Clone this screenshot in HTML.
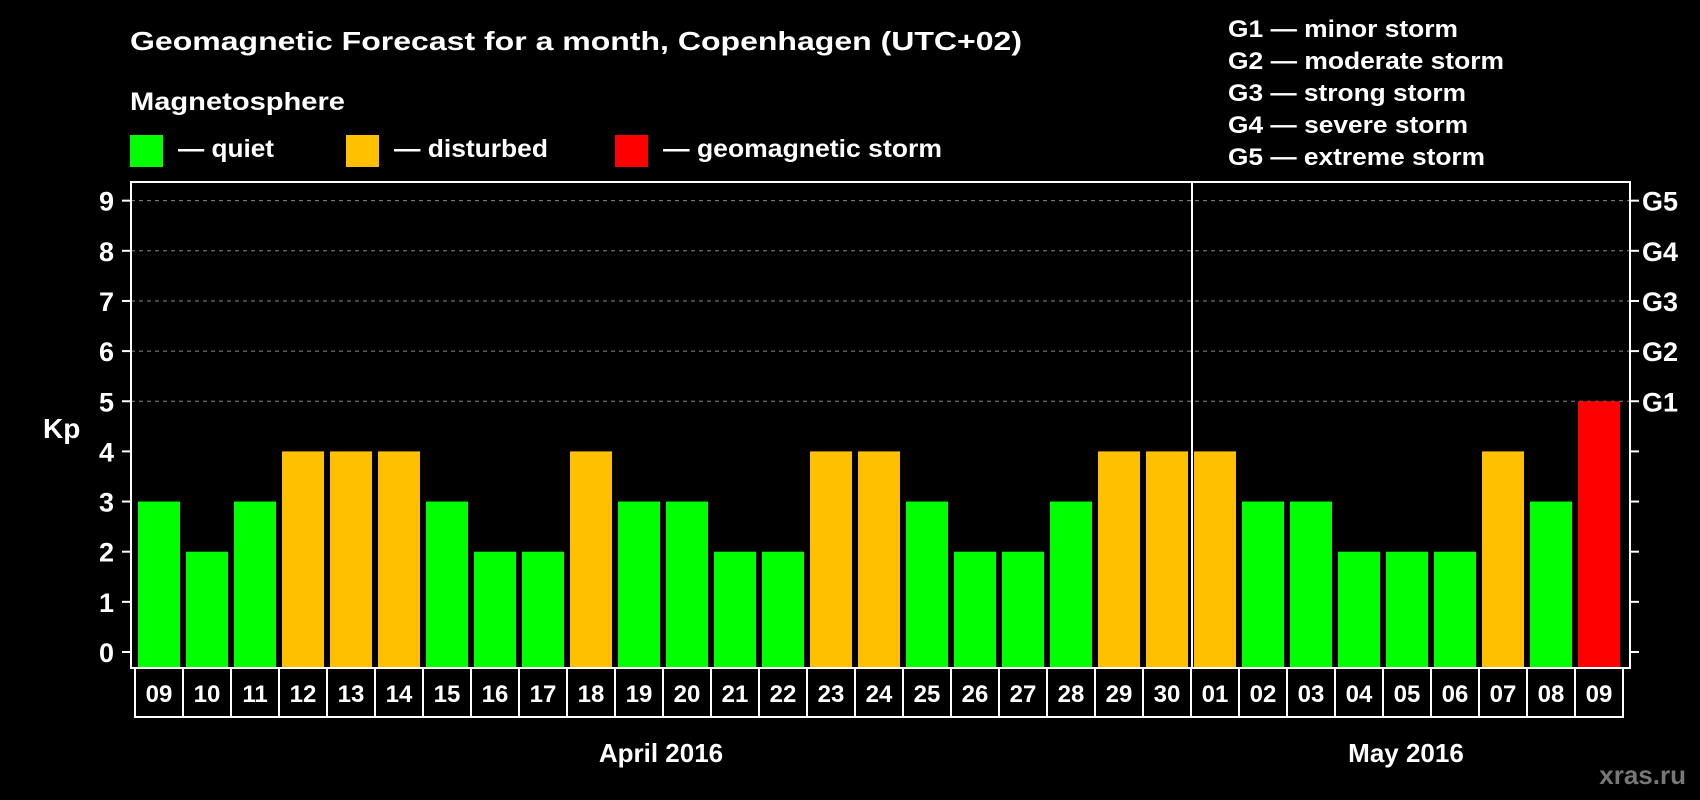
<!DOCTYPE html>
<html><head><meta charset="utf-8">
<style>
html,body{margin:0;padding:0;background:#000;}
svg{display:block;font-family:"Liberation Sans",Arial,sans-serif;font-weight:bold;}
</style></head>
<body>
<svg id="chart" width="1700" height="800" viewBox="0 0 1700 800" xmlns="http://www.w3.org/2000/svg">
<rect x="0" y="0" width="1700" height="800" fill="#000"/>
<text x="130" y="50" fill="#fff" font-size="26" textLength="892" lengthAdjust="spacingAndGlyphs">Geomagnetic Forecast for a month, Copenhagen (UTC+02)</text>
<text x="130" y="110" fill="#fff" font-size="25" textLength="215" lengthAdjust="spacingAndGlyphs">Magnetosphere</text>
<rect x="130" y="135" width="33" height="32" fill="#00ff00"/>
<text x="178" y="157" fill="#fff" font-size="25" textLength="96" lengthAdjust="spacingAndGlyphs">— quiet</text>
<rect x="346" y="135" width="33" height="32" fill="#ffc000"/>
<text x="394" y="157" fill="#fff" font-size="25" textLength="154" lengthAdjust="spacingAndGlyphs">— disturbed</text>
<rect x="615" y="135" width="33" height="32" fill="#ff0000"/>
<text x="663" y="157" fill="#fff" font-size="25" textLength="279" lengthAdjust="spacingAndGlyphs">— geomagnetic storm</text>
<g fill="#fff" font-size="24">
<text x="1228" y="37" textLength="230" lengthAdjust="spacingAndGlyphs">G1 — minor storm</text>
<text x="1228" y="69" textLength="276" lengthAdjust="spacingAndGlyphs">G2 — moderate storm</text>
<text x="1228" y="101" textLength="238" lengthAdjust="spacingAndGlyphs">G3 — strong storm</text>
<text x="1228" y="133" textLength="240" lengthAdjust="spacingAndGlyphs">G4 — severe storm</text>
<text x="1228" y="165" textLength="257" lengthAdjust="spacingAndGlyphs">G5 — extreme storm</text>
</g>
<g id="grid"></g>
<g id="bars"></g>
<g id="axes"></g>
<text x="43" y="438" fill="#fff" font-size="28">Kp</text>
<text x="661" y="762" fill="#fff" font-size="26" text-anchor="middle">April 2016</text>
<text x="1406" y="762" fill="#fff" font-size="26" text-anchor="middle">May 2016</text>
<text x="1686" y="784" fill="#777" font-size="26" text-anchor="end">xras.ru</text>
</svg>
<script>
const days = ["09","10","11","12","13","14","15","16","17","18","19","20","21","22","23","24","25","26","27","28","29","30","01","02","03","04","05","06","07","08","09"];
const kp = [3,2,3,4,4,4,3,2,2,4,3,3,2,2,4,4,3,2,2,3,4,4,4,3,3,2,2,2,4,3,5];
const yTicks = [0,1,2,3,4,5,6,7,8,9];
const gLabels = ["G1","G2","G3","G4","G5"];
const gLevels = [5,6,7,8,9];
const monthStartIndex = 22;

const NS = "http://www.w3.org/2000/svg";
const plotL = 131, plotR = 1630, plotT = 182, plotB = 668;
const y0 = 652, unit = 50.15;
const x0 = 135, pitch = 48, barW = 42;
const yScale = v => y0 - v * unit;
const xBand = i => x0 + i * pitch;
function colorFor(v){ return v >= 5 ? "#ff0000" : (v >= 4 ? "#ffc000" : "#00ff00"); }
function mk(tag, attrs, parent){
  const e = document.createElementNS(NS, tag);
  for (const k in attrs) e.setAttribute(k, attrs[k]);
  parent.appendChild(e); return e;
}
const grid = document.getElementById("grid");
const bars = document.getElementById("bars");
const axes = document.getElementById("axes");

yTicks.forEach(t => {
  const y = yScale(t);
  if (t >= 5) {
    const g = mk("line", {x1: plotL, x2: plotR, y1: y, y2: y, stroke: "#888", "stroke-width": 1, "stroke-dasharray": "4,4"}, grid);
    
    
  }
  const tk = mk("line", {x1: plotL - 9, x2: plotL, y1: y, y2: y, stroke: "#fff", "stroke-width": 2}, axes);
  
  
  const tk2 = mk("line", {x1: plotR, x2: plotR + 9, y1: y, y2: y, stroke: "#fff", "stroke-width": 2}, axes);
  
  
  const lb = mk("text", {x: 114, y: y + 10, fill: "#fff", "font-size": 27, "text-anchor": "end"}, axes);
  lb.textContent = t;
  
  
});
gLabels.forEach((g, i) => {
  const lb = mk("text", {x: 1642, y: yScale(gLevels[i]) + 10, fill: "#fff", "font-size": 27}, axes);
  lb.textContent = g;
  
  
});
kp.forEach((v, i) => {
  const bx = xBand(i) + 3;
  const r = mk("rect", {x: bx, y: yScale(v), width: barW, height: plotB - yScale(v), fill: colorFor(v)}, bars);
  
  
  const c = mk("rect", {x: xBand(i), y: plotB, width: pitch, height: 49, fill: "none", stroke: "#fff", "stroke-width": 2}, axes);
  
  
  const t = mk("text", {x: xBand(i) + pitch / 2, y: plotB + 34, fill: "#fff", "font-size": 24, "text-anchor": "middle"}, axes);
  t.textContent = days[i];
  
  
});
const frame = mk("rect", {x: plotL, y: plotT, width: plotR - plotL, height: plotB - plotT, fill: "none", stroke: "#fff", "stroke-width": 2}, axes);


const dx = xBand(monthStartIndex) + 1;
const div = mk("line", {x1: dx, x2: dx, y1: plotT, y2: plotB, stroke: "#fff", "stroke-width": 2}, axes);


</script>
</body></html>
